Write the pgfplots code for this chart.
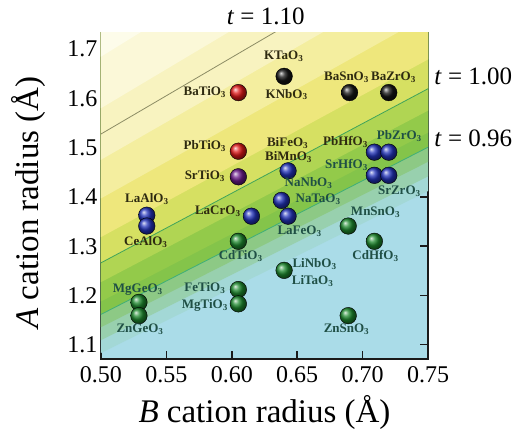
\documentclass[border=0pt]{standalone}
\usepackage{pgfplots}
\pgfplotsset{compat=1.18}
\usepackage{fontspec}
\setmainfont{Liberation Serif}
\definecolor{bgblue}{HTML}{AADCE8}
\definecolor{ca}{HTML}{A3D8D6}
\definecolor{cb}{HTML}{98D0AE}
\definecolor{cc}{HTML}{8DC985}
\definecolor{cd}{HTML}{84C44A}
\definecolor{ce}{HTML}{93CA4A}
\definecolor{cf}{HTML}{B0D553}
\definecolor{cg}{HTML}{D6E062}
\definecolor{ch}{HTML}{EEE77C}
\definecolor{ci}{HTML}{F4EE9F}
\definecolor{cj}{HTML}{F8F3C0}
\definecolor{ck}{HTML}{FBF8D8}
\definecolor{cl}{HTML}{FDFCEA}
\definecolor{axisc}{HTML}{1A1A1A}
\definecolor{lineA}{HTML}{8C8C64}
\definecolor{lineB}{HTML}{3FA45A}
\definecolor{lineC}{HTML}{3FAF7A}
\definecolor{txtdark}{HTML}{2E2A10}
\definecolor{txtgreen}{HTML}{1F4F45}
\definecolor{bred}{HTML}{E01818}
\definecolor{bblack}{HTML}{151515}
\definecolor{bpurple}{HTML}{6A1A8A}
\definecolor{bblue}{HTML}{2233BB}
\definecolor{bgreen}{HTML}{1E8A2E}
\pgfplotsset{mball/.style={only marks, mark=ball, mark size=8.3pt, mark options={ball color=#1}}}
\begin{document}
\begin{tikzpicture}[
  lbl/.style={font=\bfseries\fontsize{13}{13}\selectfont, text=txtdark, inner sep=0pt},
  lblg/.style={font=\bfseries\fontsize{13}{13}\selectfont, text=txtgreen, inner sep=0pt},
  tlbl/.style={font=\fontsize{25}{25}\selectfont, inner sep=0pt}]
\path[use as bounding box] (-101pt,-75pt) rectangle (415pt,359pt);
\begin{axis}[
  scale only axis, width=327pt, height=326pt,
  xmin=0.5, xmax=0.75, ymin=1.071, ymax=1.733,
  xtick={0.5,0.55,0.6,0.65,0.7,0.75},
  ytick={1.1,1.2,1.3,1.4,1.5,1.6,1.7},
  /pgf/number format/assume math mode=true,
  xticklabel style={/pgf/number format/fixed, /pgf/number format/fixed zerofill, /pgf/number format/precision=2, font=\fontsize{24}{24}\selectfont, yshift=-4pt},
  yticklabel style={/pgf/number format/fixed, /pgf/number format/fixed zerofill, /pgf/number format/precision=1, font=\fontsize{24}{24}\selectfont},
  clip mode=individual,
  axis background/.style={fill=bgblue},
  axis line style={line width=1.8pt, color=axisc},
  major tick length=8pt,
  every tick/.style={line width=1.5pt, color=axisc},
  xlabel={\textit{B} cation radius (Å)},
  ylabel={\textit{A} cation radius (Å)},
  x label style={at={(axis description cs:0.5,-0.163)}, anchor=center, font=\fontsize{33}{33}\selectfont},
  y label style={at={(axis description cs:-0.223,0.48)}, anchor=center, font=\fontsize{33}{33}\selectfont},
]
% background gradient (bands bounded by lines of constant t)
\addplot[draw=none, fill=ca] coordinates {(0.5,1.0832) (0.75,1.4120) (0.75,2.3) (0.5,2.3)} -- cycle;
\addplot[draw=none, fill=cb] coordinates {(0.5,1.1093) (0.75,1.4417) (0.75,2.3) (0.5,2.3)} -- cycle;
\addplot[draw=none, fill=cc] coordinates {(0.5,1.1355) (0.75,1.4714) (0.75,2.3) (0.5,2.3)} -- cycle;
\addplot[draw=none, fill=cd] coordinates {(0.5,1.1616) (0.75,1.5010) (0.75,2.3) (0.5,2.3)} -- cycle;
\addplot[draw=none, fill=ce] coordinates {(0.5,1.1878) (0.75,1.5307) (0.75,2.3) (0.5,2.3)} -- cycle;
\addplot[draw=none, fill=cf] coordinates {(0.5,1.2271) (0.75,1.5753) (0.75,2.3) (0.5,2.3)} -- cycle;
\addplot[draw=none, fill=cg] coordinates {(0.5,1.2663) (0.75,1.6198) (0.75,2.3) (0.5,2.3)} -- cycle;
\addplot[draw=none, fill=ch] coordinates {(0.5,1.3186) (0.75,1.6792) (0.75,2.3) (0.5,2.3)} -- cycle;
\addplot[draw=none, fill=ci] coordinates {(0.5,1.3971) (0.75,1.7683) (0.75,2.3) (0.5,2.3)} -- cycle;
\addplot[draw=none, fill=cj] coordinates {(0.5,1.4756) (0.75,1.8574) (0.75,2.3) (0.5,2.3)} -- cycle;
\addplot[draw=none, fill=ck] coordinates {(0.5,1.5803) (0.75,1.9762) (0.75,2.3) (0.5,2.3)} -- cycle;
\addplot[draw=none, fill=cl] coordinates {(0.5,1.6849) (0.75,2.0950) (0.75,2.3) (0.5,2.3)} -- cycle;
% tolerance-factor lines
\addplot[lineA, line width=0.8pt] coordinates {(0.5,1.5279) (0.75,1.9168)};
\addplot[lineB, line width=0.8pt] coordinates {(0.5,1.2663) (0.75,1.6198)};
\addplot[lineC, line width=0.8pt] coordinates {(0.5,1.1616) (0.75,1.5010)};
% compounds
\addplot[mball=bblack] coordinates {(0.640,1.645) (0.690,1.612) (0.720,1.612)};
\addplot[mball=bred] coordinates {(0.605,1.612) (0.605,1.493)};
\addplot[mball=bpurple] coordinates {(0.605,1.441)};
\addplot[mball=bblue] coordinates {(0.535,1.363) (0.535,1.341) (0.615,1.361) (0.643,1.453) (0.638,1.393) (0.643,1.361) (0.709,1.491) (0.720,1.491) (0.709,1.444) (0.720,1.444)};
\addplot[mball=bgreen] coordinates {(0.605,1.310) (0.689,1.341) (0.709,1.310) (0.640,1.251) (0.605,1.212) (0.605,1.183) (0.529,1.186) (0.529,1.159) (0.689,1.159)};
% labels
\node[lbl] at (0.6397,1.6857) {KTaO\textsubscript{3}};
\node[lbl] at (0.6419,1.6080) {KNbO\textsubscript{3}};
\node[lbl] at (0.6877,1.6430) {BaSnO\textsubscript{3}};
\node[lbl] at (0.7236,1.6430) {BaZrO\textsubscript{3}};
\node[lbl] at (0.5794,1.6140) {BaTiO\textsubscript{3}};
\node[lbl] at (0.5794,1.5040) {PbTiO\textsubscript{3}};
\node[lbl] at (0.5794,1.4430) {SrTiO\textsubscript{3}};
\node[lbl] at (0.6427,1.5090) {BiFeO\textsubscript{3}};
\node[lbl] at (0.6434,1.4810) {BiMnO\textsubscript{3}};
\node[lbl] at (0.6869,1.5120) {PbHfO\textsubscript{3}};
\node[lblg] at (0.7281,1.5240) {PbZrO\textsubscript{3}};
\node[lblg] at (0.6877,1.4650) {SrHfO\textsubscript{3}};
\node[lblg] at (0.7281,1.4120) {SrZrO\textsubscript{3}};
\node[lblg] at (0.6587,1.4290) {NaNbO\textsubscript{3}};
\node[lblg] at (0.6660,1.3960) {NaTaO\textsubscript{3}};
\node[lbl] at (0.5893,1.3710) {LaCrO\textsubscript{3}};
\node[lblg] at (0.6518,1.3310) {LaFeO\textsubscript{3}};
\node[lbl] at (0.5351,1.3960) {LaAlO\textsubscript{3}};
\node[lbl] at (0.5343,1.3080) {CeAlO\textsubscript{3}};
\node[lblg] at (0.7099,1.3690) {MnSnO\textsubscript{3}};
\node[lblg] at (0.6068,1.2800) {CdTiO\textsubscript{3}};
\node[lblg] at (0.7099,1.2800) {CdHfO\textsubscript{3}};
\node[lblg] at (0.6633,1.2630) {LiNbO\textsubscript{3}};
\node[lblg] at (0.6618,1.2290) {LiTaO\textsubscript{3}};
\node[lblg] at (0.5794,1.2160) {FeTiO\textsubscript{3}};
\node[lblg] at (0.5794,1.1800) {MgTiO\textsubscript{3}};
\node[lblg] at (0.5282,1.2120) {MgGeO\textsubscript{3}};
\node[lblg] at (0.5298,1.1310) {ZnGeO\textsubscript{3}};
\node[lblg] at (0.6877,1.1310) {ZnSnO\textsubscript{3}};
% t labels
\node[tlbl] at (0.6259,1.766) {\textit{t} = 1.10};
\node[tlbl] at (0.7846,1.645) {\textit{t} = 1.00};
\node[tlbl] at (0.7846,1.520) {\textit{t} = 0.96};
\end{axis}
\end{tikzpicture}
\end{document}
